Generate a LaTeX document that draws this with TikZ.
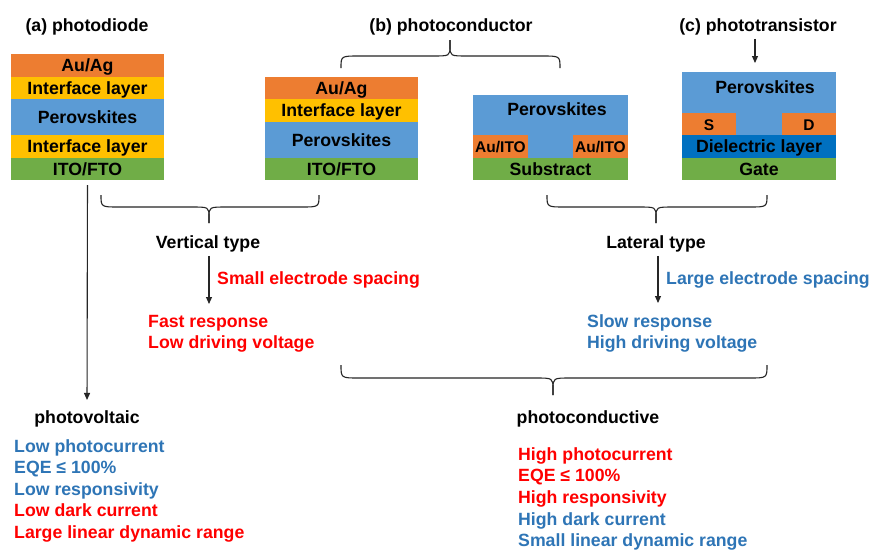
\documentclass[tikz,border=0pt]{standalone}
\usepackage{fontspec}
\setmainfont{Liberation Sans}
\usetikzlibrary{arrows.meta}
\definecolor{cOr}{HTML}{ED7D31}
\definecolor{cYe}{HTML}{FFC000}
\definecolor{cBl}{HTML}{5B9BD5}
\definecolor{cGr}{HTML}{70AD47}
\definecolor{cDi}{HTML}{0070C0}
\definecolor{tRed}{HTML}{FF0000}
\definecolor{tBlue}{HTML}{2E75B6}
\newcommand{\mybrace}[7]{%
  % x1, x2, xc, y0 (ends), y1 (flat), ymid, y2 (tip)
  \draw[ln] (#1,#4) .. controls (#1,#5) .. (#1+18,#5) -- (#3-18,#5)
    .. controls (#3,#5) .. (#3,#6) -- (#3,#7);
  \draw[ln] (#2,#4) .. controls (#2,#5) .. (#2-18,#5) -- (#3+18,#5)
    .. controls (#3,#5) .. (#3,#6) -- (#3,#7);
}
\begin{document}
\begin{tikzpicture}[x=1pt,y=-1pt,
  every node/.style={font=\bfseries\fontsize{17.7}{21.65}\selectfont},
  layer/.style={rectangle, inner sep=0pt, outer sep=0pt, text height=12.7pt, text depth=0pt, text=black},
  small/.style={font=\bfseries\fontsize{15.5}{18}\selectfont},
  lbl/.style={inner sep=0pt, anchor=base west},
  cen/.style={inner sep=0pt, anchor=base},
  ln/.style={line width=1.1pt, black!85},
  arr/.style={ln, -{Triangle[length=7pt,width=6pt]}}
]
\useasboundingbox (0,0) rectangle (871,550);
\fill[white] (0,0) rectangle (871,550);

% titles
\node[cen] (ta) at (87,31) {(a) photodiode};
\node[cen] (tb) at (451,31) {(b) photoconductor};
\node[cen] (tc) at (758,31) {(c) phototransistor};

% (a) photodiode stack
\node[layer, fill=cOr, minimum width=153pt, minimum height=23pt] (aAu) at (87.5,65.5) {Au/Ag};
\node[layer, fill=cYe, minimum width=153pt, minimum height=22pt] (aIf1) at (87.5,88) {Interface layer};
\node[layer, fill=cBl, minimum width=153pt, minimum height=36pt] (aPe) at (87.5,117) {Perovskites};
\node[layer, fill=cYe, minimum width=153pt, minimum height=23pt] (aIf2) at (87.5,146.5) {Interface layer};
\node[layer, fill=cGr, minimum width=153pt, minimum height=22pt] (aIT) at (87.5,169) {ITO/FTO};

% (b) vertical photoconductor
\node[layer, fill=cOr, minimum width=153pt, minimum height=22pt] (bAu) at (341.5,88) {Au/Ag};
\node[layer, fill=cYe, minimum width=153pt, minimum height=23pt] (bIf) at (341.5,110.5) {Interface layer};
\node[layer, fill=cBl, minimum width=153pt, minimum height=36pt] (bPe) at (341.5,140) {Perovskites};
\node[layer, fill=cGr, minimum width=153pt, minimum height=22pt] (bIT) at (341.5,169) {ITO/FTO};

% (b) lateral photoconductor
\node[layer, fill=cBl, minimum width=155pt, minimum height=63pt] (lPe) at (550.5,126.5) {};
\node[layer] (lPeT) at (557,109) {Perovskites};
\node[layer, small, fill=cOr, minimum width=55pt, minimum height=23pt] (lE1) at (500.5,146.5) {Au/ITO};
\node[layer, small, fill=cOr, minimum width=55pt, minimum height=23pt] (lE2) at (600.5,146.5) {Au/ITO};
\node[layer, fill=cGr, minimum width=155pt, minimum height=22pt] (lSu) at (550.5,169) {Substract};

% (c) phototransistor
\node[layer, fill=cBl, minimum width=154pt, minimum height=63pt] (cPe) at (759,103.5) {};
\node[layer] (cPeT) at (765,87) {Perovskites};
\node[layer, small, fill=cOr, minimum width=54pt, minimum height=22pt] (cS) at (709,124) {S};
\node[layer, small, fill=cOr, minimum width=54pt, minimum height=22pt] (cD) at (809,124) {D};
\node[layer, fill=cDi, minimum width=154pt, minimum height=23pt] (cDi) at (759,146.5) {Dielectric layer};
\node[layer, fill=cGr, minimum width=154pt, minimum height=22pt] (cGa) at (759,169) {Gate};

\draw[arr] (tc.south -| 755,0) ++(0,4) -- (755,63);

% braces
\mybrace{341}{560}{450}{68}{56}{46}{40}
\mybrace{101}{319}{209}{195}{207}{217}{223}
\mybrace{547}{767}{656}{195}{207}{217}{223}
\mybrace{341}{767}{553}{365}{378}{389}{395}

% vertical type
\node[cen] (vt) at (208,248) {Vertical type};
\node[lbl, text=tRed] (vsp) at (217,284) {Small electrode spacing};
\coordinate (vEnd) at (209,304);
\draw[arr, shorten <=4pt] (vt.south -| vEnd) -- (vEnd);
\node[lbl, text=tRed] (vf1) at (148,327) {Fast response};
\node[lbl, text=tRed] (vf2) at (148,348.5) {Low driving voltage};

% lateral type
\node[cen] (lt) at (656,248) {Lateral type};
\node[lbl, text=tBlue] (lsp) at (666,284) {Large electrode spacing};
\coordinate (lEnd) at (658,303);
\draw[arr, shorten <=4pt] (lt.south -| lEnd) -- (lEnd);
\node[lbl, text=tBlue] (lf1) at (587,327) {Slow response};
\node[lbl, text=tBlue] (lf2) at (587,348.5) {High driving voltage};

% photovoltaic
\node[cen] (pv) at (87,423) {photovoltaic};
\draw[arr, shorten <=5pt, shorten >=10pt] (aIT.south) -- (pv.north);
\node[lbl, text=tBlue] (pv1) at (14,452) {Low photocurrent};
\node[lbl, text=tBlue] (pv2) at (14,473.5) {EQE ≤ 100\%};
\node[lbl, text=tBlue] (pv3) at (14,495) {Low responsivity};
\node[lbl, text=tRed] (pv4) at (14,516.5) {Low dark current};
\node[lbl, text=tRed] (pv5) at (14,538) {Large linear dynamic range};

% photoconductive
\node[cen] (pc) at (588,423) {photoconductive};
\node[lbl, text=tRed] (pc1) at (518,460) {High photocurrent};
\node[lbl, text=tRed] (pc2) at (518,481.6) {EQE ≤ 100\%};
\node[lbl, text=tRed] (pc3) at (518,503.3) {High responsivity};
\node[lbl, text=tBlue] (pc4) at (518,525) {High dark current};
\node[lbl, text=tBlue] (pc5) at (518,546.6) {Small linear dynamic range};
\end{tikzpicture}
\end{document}
